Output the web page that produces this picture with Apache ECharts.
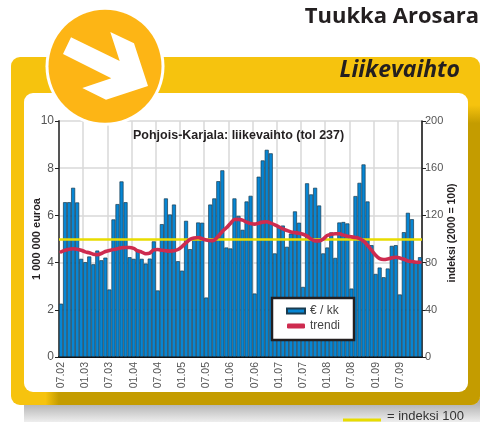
<!DOCTYPE html>
<html><head><meta charset="utf-8">
<style>html,body{margin:0;padding:0;background:#fff}#c{width:480px;height:422px}</style>
<script src="https://cdn.jsdelivr.net/npm/echarts@6/dist/echarts.min.js"></script>
</head><body><div id="c"></div>
<script>
var months=["07.02","08.02","09.02","10.02","11.02","12.02","01.03","02.03","03.03","04.03","05.03","06.03",
"07.03","08.03","09.03","10.03","11.03","12.03","01.04","02.04","03.04","04.04","05.04","06.04",
"07.04","08.04","09.04","10.04","11.04","12.04","01.05","02.05","03.05","04.05","05.05","06.05",
"07.05","08.05","09.05","10.05","11.05","12.05","01.06","02.06","03.06","04.06","05.06","06.06",
"07.06","08.06","09.06","10.06","11.06","12.06","01.07","02.07","03.07","04.07","05.07","06.07",
"07.07","08.07","09.07","10.07","11.07","12.07","01.08","02.08","03.08","04.08","05.08","06.08",
"07.08","08.08","09.08","10.08","11.08","12.08","01.09","02.09","03.09","04.09","05.09","06.09",
"07.09","08.09","09.09","10.09","11.09","12.09"];
var revenue=[2.26,6.56,6.56,7.17,6.55,4.16,4.02,4.26,3.93,4.51,4.10,4.21,
2.86,5.83,6.48,7.44,6.56,4.23,4.16,4.55,4.16,3.96,4.17,4.90,
2.82,5.63,6.72,6.04,6.46,4.06,3.66,5.77,4.57,4.95,5.70,5.69,
2.52,6.46,6.72,7.45,7.91,4.64,4.60,6.72,5.98,5.39,6.59,6.83,
2.69,7.64,8.33,8.78,8.63,4.39,5.54,5.57,4.67,5.23,6.17,5.69,
2.97,7.36,6.89,7.17,6.42,4.39,4.64,5.28,4.20,5.70,5.72,5.66,
2.90,6.82,7.38,8.16,6.59,4.74,3.52,3.79,3.38,3.75,4.71,4.74,
2.65,5.29,6.11,5.84,4.00,4.23];
var trend=[89.1,90.5,91.4,91.7,91.4,90.5,89.1,88.3,87.1,86.8,87.7,89.4,
90.3,91.1,91.7,92.6,92.8,92.8,92.0,90.0,88.9,87.5,88.0,90.8,
91.1,90.5,90.0,89.7,90.0,91.1,93.6,96.8,99.7,100.8,101.3,100.2,
99.1,98.5,99.1,102.4,106.4,109.5,113.2,116.5,116.6,116.0,114.3,113.2,
112.6,113.4,114.3,114.6,113.4,112.0,110.3,108.6,107.2,106.0,105.4,104.9,
104.0,102.4,100.0,98.4,98.4,100.0,102.9,104.1,104.4,104.4,103.3,102.4,
101.8,101.3,100.4,98.3,94.7,90.5,86.3,83.4,82.6,83.1,84.0,84.5,
84.0,82.8,81.4,80.9,80.3,80.3];
var indexLevel=100;
var SANS='"Liberation Sans",sans-serif';
var YEL='#F6C30E',GOLD='#C49C00';
function lg(x2,y2,stops){return {type:'linear',x:0,y:0,x2:x2,y2:y2,colorStops:stops};}
var chart=echarts.init(document.getElementById('c'),null,{renderer:'canvas'});
chart.setOption({
 animation:false,
 backgroundColor:'#fff',
 title:[
  {text:'Tuukka Arosara',right:1,top:6,padding:0,textStyle:{fontFamily:'"Open Sans"',fontWeight:'bold',fontSize:22,color:'#231f20'}},
  {text:'Liikevaihto',right:20,top:59,padding:0,textStyle:{fontFamily:'"Open Sans"',fontStyle:'italic',fontWeight:'bold',fontSize:23,color:'#231f20'}},
  {text:'Pohjois-Karjala: liikevaihto (tol 237)',left:133,top:129,padding:0,textStyle:{fontFamily:SANS,fontWeight:'bold',fontSize:12.5,color:'#231f20'}},
  {text:'= indeksi 100',left:387,top:410,padding:0,textStyle:{fontFamily:SANS,fontWeight:'normal',fontSize:13,color:'#333'}}
 ],
 grid:{left:59,right:58,top:121,bottom:65,containLabel:false},
 legend:{left:272,top:298,orient:'vertical',itemWidth:18,itemHeight:5,itemGap:3,padding:[7,14,8,14],
  backgroundColor:'#fff',borderColor:'#231f20',borderWidth:2.5,borderRadius:0,z:10,
  textStyle:{fontFamily:SANS,fontSize:12,color:'#444'},
  data:[{name:'€ / kk',icon:'rect'},{name:'trendi',icon:'roundRect'}]},
 xAxis:{type:'category',data:months,boundaryGap:true,
  axisLine:{lineStyle:{color:'#111',width:2}},
  axisTick:{interval:5,length:4,lineStyle:{color:'#111',width:1}},
  axisLabel:{interval:5,rotate:90,margin:5,fontFamily:SANS,fontSize:10.5,color:'#555'},
  splitLine:{show:true,interval:5,lineStyle:{color:'#d9d9d9',width:1.5}}},
 yAxis:[
  {type:'value',min:0,max:10,interval:2,name:'1 000 000 euroa',nameLocation:'middle',nameRotate:90,nameGap:17,nameMoveOverlap:false,
   nameTextStyle:{fontFamily:SANS,fontWeight:'bold',fontSize:11,color:'#231f20'},
   axisLine:{show:true,lineStyle:{color:'#555',width:2}},
   axisTick:{show:true,length:4,lineStyle:{color:'#222',width:1}},
   axisLabel:{margin:5,fontFamily:SANS,fontSize:12,color:'#555'},
   splitLine:{show:true,lineStyle:{color:'#d9d9d9',width:1.5}}},
  {type:'value',min:0,max:200,interval:40,name:'indeksi (2000 = 100)',nameLocation:'middle',nameRotate:90,nameGap:25,nameMoveOverlap:false,
   nameTextStyle:{fontFamily:SANS,fontWeight:'bold',fontSize:10.5,color:'#231f20',padding:[0,0,0,12]},
   axisLine:{show:true,lineStyle:{color:'#111',width:1.5}},
   axisTick:{show:true,length:4,lineStyle:{color:'#222',width:1}},
   axisLabel:{margin:3,fontFamily:SANS,fontSize:11,color:'#555'},
   splitLine:{show:false}}
 ],
 series:[
  {name:'€ / kk',type:'bar',data:revenue,barWidth:'100%',barCategoryGap:0,z:2,
   itemStyle:{color:'#0686d4',borderColor:'#1a3c50',borderWidth:0.7}},
  {name:'trendi',type:'line',yAxisIndex:1,data:trend,smooth:0.3,symbol:'none',z:4,
   lineStyle:{color:'#CE2B4F',width:3.6,cap:'round'},itemStyle:{color:'#CE2B4F'},
   markLine:{silent:true,symbol:'none',z:3,label:{show:false},
    lineStyle:{color:'#E8DC00',width:2.5,type:'solid'},data:[{yAxis:indexLevel}]}}
 ],
 graphic:{elements:[
  {type:'rect',z:-10,shape:{x:24,y:398,width:456,height:24},style:{fill:lg(0,1,[{offset:0,color:'#a9a9a9'},{offset:0.3,color:'#b8b8b8'},{offset:1,color:'#eeeeee'}])}},
  {type:'rect',z:-9,shape:{x:11,y:57,width:469,height:348,r:9},style:{fill:YEL}},
  {type:'rect',z:-8,shape:{x:32,y:385,width:448,height:20,r:[0,0,9,0]},style:{fill:lg(1,0,[{offset:0,color:YEL},{offset:0.03,color:YEL},{offset:0.06,color:GOLD},{offset:1,color:GOLD}])}},
  {type:'rect',z:-8,shape:{x:460,y:93,width:20,height:302},style:{fill:lg(0,1,[{offset:0,color:YEL},{offset:0.04,color:YEL},{offset:0.1,color:GOLD},{offset:1,color:GOLD}])}},
  {type:'rect',z:-7,shape:{x:24,y:93,width:444,height:299,r:9},style:{fill:'#fff'}},
  {type:'circle',z:20,shape:{cx:105,cy:66.3,r:59.5},style:{fill:'#fff'}},
  {type:'circle',z:21,shape:{cx:105,cy:66.3,r:56.5},style:{fill:'#FDB515'}},
  {type:'polygon',z:22,shape:{points:[[71,37.3],[119.7,61],[110.3,32],[134,43.3],[148,86],[106,99.7],[82.3,88],[111.3,78.3],[63,54]]},style:{fill:'#fff'}},
  {type:'line',z:5,shape:{x1:343,y1:420,x2:381,y2:420},style:{stroke:'#E8DC00',lineWidth:3}}
 ]}
});
</script></body></html>
